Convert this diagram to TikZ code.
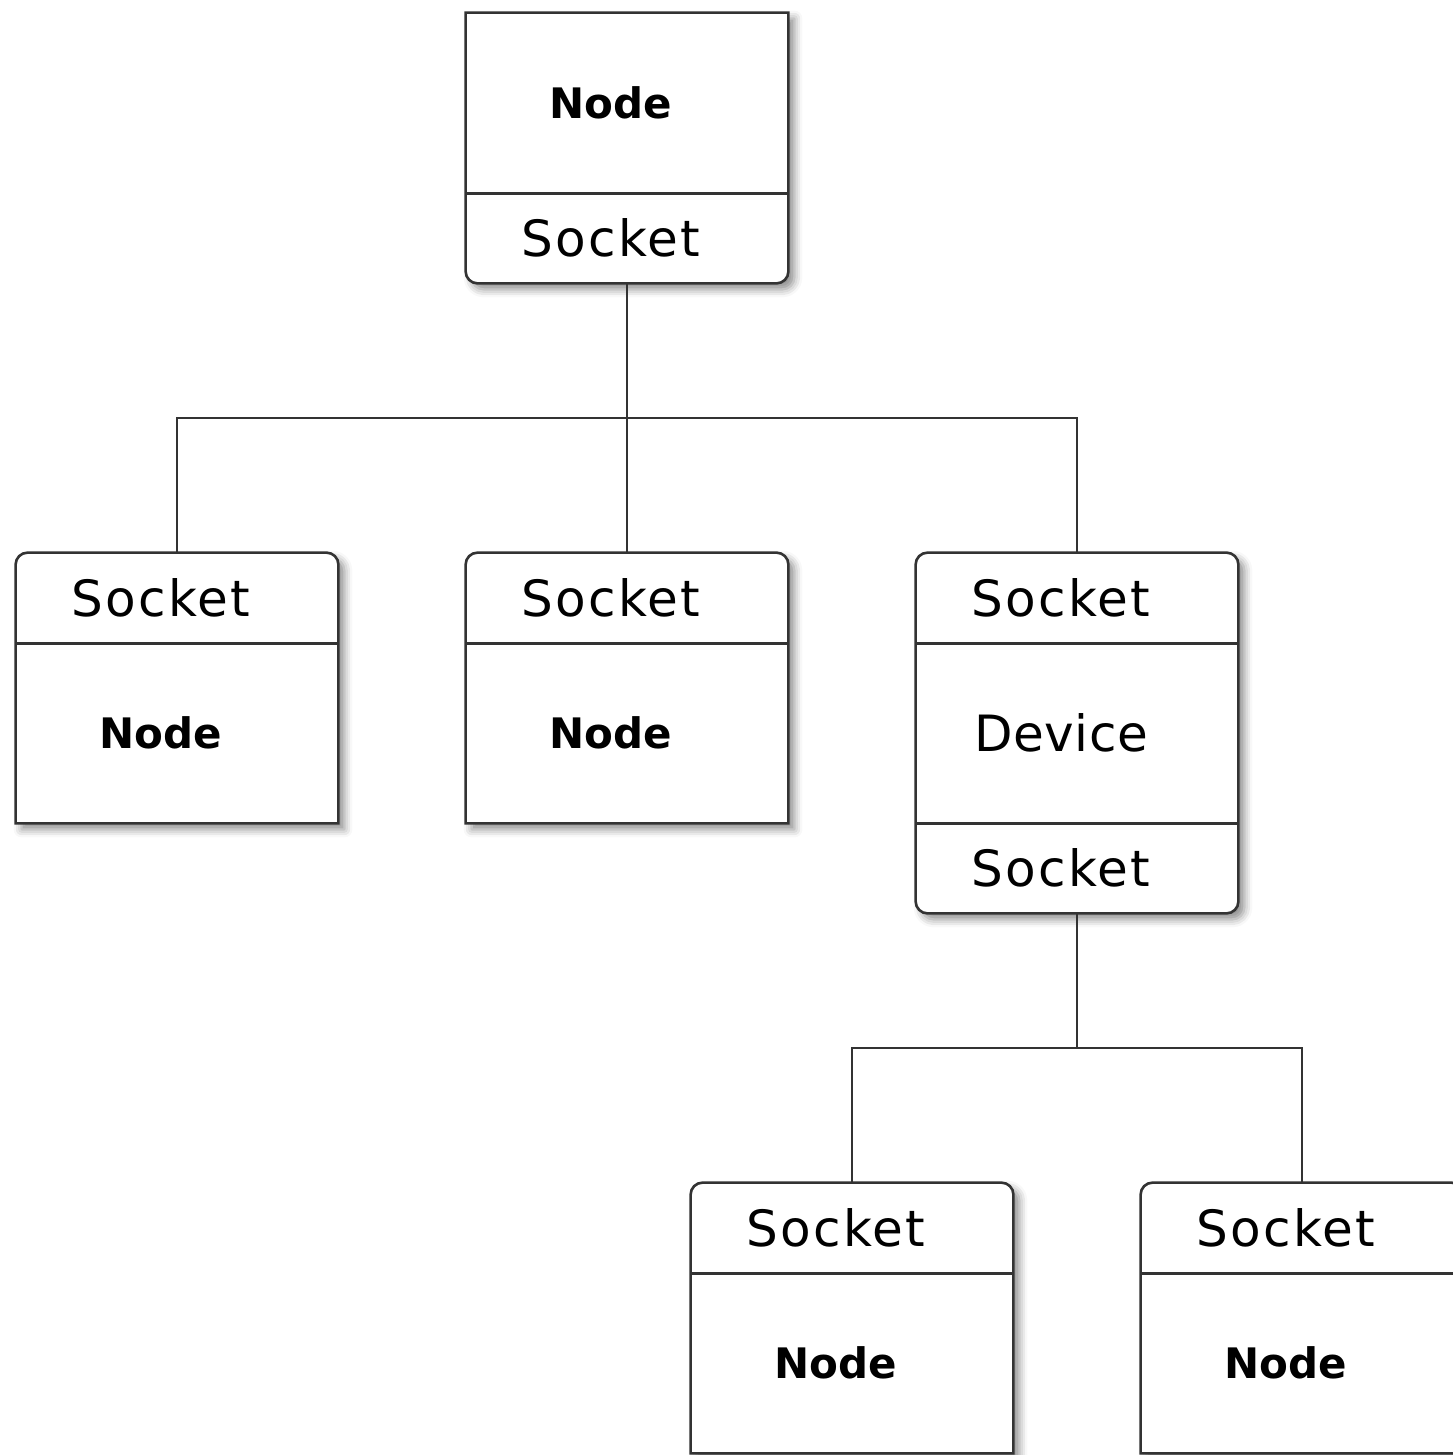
\documentclass[tikz,border=0pt]{standalone}
\usepackage{fontspec}
\setmainfont{DejaVu Sans}
\usetikzlibrary{backgrounds,shadows.blur}

\tikzset{
  part/.style={inner sep=0pt, minimum width=161pt,
               execute at begin node={\hspace*{-16pt}}},
  head/.style={part, minimum height=45pt,
               font=\fontsize{25}{30}\selectfont\addfontfeatures{LetterSpace=4.7}},
  body/.style={part, minimum height=90pt, font=\fontsize{21}{25}\selectfont\bfseries},
  dev/.style={part, minimum height=90pt,
              font=\fontsize{25}{30}\selectfont\addfontfeatures{LetterSpace=1.2}},
  frame/.style={draw=black!80, line width=1.3pt, fill=white,
                blur shadow={shadow xshift=3pt, shadow yshift=-3pt,
                             shadow blur radius=4pt, shadow opacity=45}},
  wire/.style={draw=black!80, line width=1.3pt}
}

\begin{document}
\begin{tikzpicture}[x=0.5pt,y=-0.5pt]
  \useasboundingbox (0,0) rectangle (1452,1455);

  % Boxes
  \node[body] (node0) at (627,103) {Node};
  \node[head] (sock0) at (627,238) {Socket};

  \node[head] (sock1) at (177,598) {Socket};
  \node[body] (node1) at (177,733) {Node};

  \node[head] (sock2) at (627,598) {Socket};
  \node[body] (node2) at (627,733) {Node};

  \node[head] (sock3) at (1077,598) {Socket};
  \node[dev]  (dev)   at (1077,733) {Device};
  \node[head] (sock4) at (1077,868) {Socket};

  \node[head] (sock5) at (852,1228) {Socket};
  \node[body] (node5) at (852,1363) {Node};

  \node[head] (sock6) at (1302,1228) {Socket};
  \node[body] (node6) at (1302,1363) {Node};

  % Frames
  \begin{scope}[on background layer]
    \draw[frame] (node0.north east) [rounded corners=6pt] -- (sock0.south east)
                 -- (sock0.south west) [sharp corners] -- (node0.north west) -- cycle;
    \foreach \s/\n in {sock1/node1, sock2/node2, sock5/node5, sock6/node6}
      \draw[frame] (\n.south west) [rounded corners=6pt] -- (\s.north west)
                   -- (\s.north east) [sharp corners] -- (\n.south east) -- cycle;
    \draw[frame,rounded corners=6pt] (sock3.north west) rectangle (sock4.south east);
  \end{scope}

  % Dividers
  \draw[wire] (node0.south west) -- (node0.south east);
  \foreach \s in {sock1, sock2, sock3, sock5, sock6}
    \draw[wire] (\s.south west) -- (\s.south east);
  \draw[wire] (dev.south west) -- (dev.south east);

  % Connectors
  \coordinate (bus0) at (627,418);
  \coordinate (bus1) at (1077,1048);
  \draw[wire] (sock0.south) -- (sock2.north);
  \draw[wire] (sock1.north) |- (bus0) -| (sock3.north);
  \draw[wire] (sock4.south) -- (bus1);
  \draw[wire] (sock5.north) |- (bus1) -| (sock6.north);
\end{tikzpicture}
\end{document}
